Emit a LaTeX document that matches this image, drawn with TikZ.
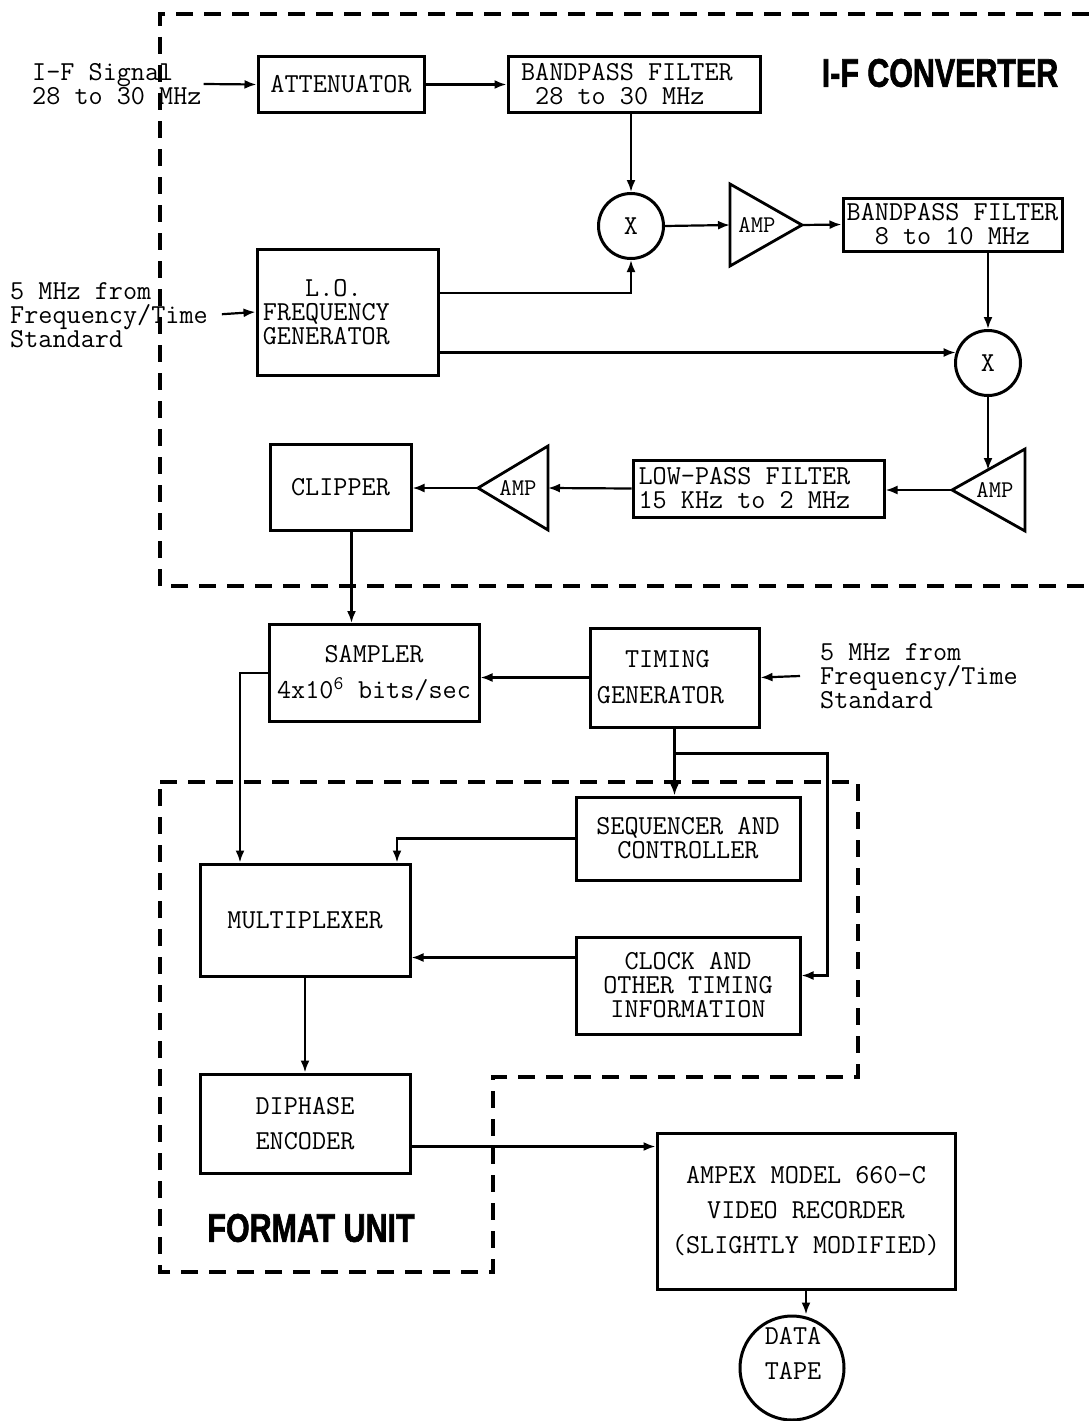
\documentclass[tikz,border=0pt]{standalone}
\usepackage{fontspec}
\usetikzlibrary{arrows.meta,calc}
\newfontfamily\titlefont[FakeStretch=0.76,FakeBold=1.5]{Liberation Sans}
\newcommand\typefont{\ttfamily\addfontfeatures{FakeBold=1,WordSpace={1,0,0}}}

\begin{document}
\begin{tikzpicture}[x=1pt,y=-1pt,
  font=\typefont\fontsize{27.4}{24}\selectfont,
  blk/.style={draw, line width=3pt, inner sep=0pt, align=center},
  mixer/.style={draw, circle, line width=3pt, inner sep=0pt, minimum size=65pt},
  amp/.style={line width=2.8pt, line join=miter},
  amptext/.style={font=\typefont\fontsize{24}{24}\selectfont, inner sep=0pt},
  wire/.style={line width=2.2pt},
  arr/.style={wire, -{Latex[length=12pt,width=9pt]}},
  unit/.style={line width=4.5pt, dash pattern=on 17pt off 11pt},
  title/.style={font=\titlefont\bfseries\fontsize{40}{40}\selectfont}]

\useasboundingbox (0,0) rectangle (1089,1421);

% I-F converter
\draw[unit] (1089,14) -- (160,14) -- (160,586) -- (1089,586);
\node[title] (ifconv) at (940,73) {I-F CONVERTER};

\node[align=left, anchor=west, inner sep=2pt] (ifsig) at (30,84) {I-F Signal\\28 to 30 MHz};
\node[blk, minimum width=166pt, minimum height=55pt] (atten) at (341,84.5) {ATTENUATOR};
\node[blk, minimum width=252pt, minimum height=55pt, align=left] (bpf1) at (634,84.5) {BANDPASS FILTER\hphantom{0}\\\hphantom{0}28 to 30 MHz};
\node[mixer] (mix1) at (631,226) {X};

% amp 1
\draw[amp] (730,184) -- (802,225) -- (730,266) -- cycle;
\coordinate (amp1-in) at (730,225);
\coordinate (amp1-out) at (802,225);
\node[amptext] (amp1) at (757,225) {AMP};

\node[blk, minimum width=219pt, minimum height=53pt] (bpf2) at (952.5,224.5) {BANDPASS FILTER\\8 to 10 MHz};
\node[mixer] (mix2) at (988,363) {X};

\node[blk, minimum width=181pt, minimum height=126pt, align=left] (lo) at (347.5,312) {\hphantom{FRE}L.O.\\FREQUENCY\hphantom{XXX}\\GENERATOR};
\coordinate (lo-a) at (438,293);
\node[align=left, anchor=west, inner sep=2pt] (loref) at (8,315) {5 MHz from\\Frequency/Time\\Standard};

% amp 3, pointing left
\draw[amp] (1025,449) -- (952,490) -- (1025,531) -- cycle;
\coordinate (amp3-in) at (988,470);
\coordinate (amp3-out) at (952,490);
\node[amptext] (amp3) at (995,490) {AMP};

\node[blk, minimum width=251pt, minimum height=57pt, align=left] (lpf) at (758.5,488.5) {LOW-PASS FILTER\hphantom{00}\\15 KHz to 2 MHz};

% amp 2
\draw[amp] (548,446) -- (478,488) -- (548,530) -- cycle;
\coordinate (amp2-in) at (548,488);
\coordinate (amp2-out) at (478,488);
\node[amptext] (amp2) at (518,488) {AMP};

\node[blk, minimum width=141pt, minimum height=86pt] (clip) at (340.5,487) {CLIPPER};

% sampler and timing
\node[blk, minimum width=210pt, minimum height=97pt] (samp) at (374,673) {SAMPLER\\[12pt]4x10\textsuperscript{6} bits/sec};
\node[blk, minimum width=169pt, minimum height=99pt, align=left] (tgen) at (674.5,677.5) {\hphantom{GE}TIMING\\[12pt]GENERATOR\hphantom{GE}};
\node[align=left, anchor=west, inner sep=2pt] (tgref) at (818,676) {5 MHz from\\Frequency/Time\\Standard};

% format unit
\draw[unit] (160,782) -- (858,782) -- (858,1077) -- (493,1077) -- (493,1272) -- (160,1272) -- cycle;
\node[title] (fmt) at (311,1228) {FORMAT UNIT};

\node[blk, minimum width=224pt, minimum height=83pt] (seq) at (688,838.5) {SEQUENCER AND\\CONTROLLER};
\node[blk, minimum width=210pt, minimum height=112pt] (mux) at (305,920) {MULTIPLEXER};
\node[blk, minimum width=224pt, minimum height=97pt] (clock) at (688,985.5) {CLOCK AND\\OTHER TIMING\\INFORMATION};
\node[blk, minimum width=210pt, minimum height=99pt] (dip) at (305,1123.5) {DIPHASE\\[11pt]ENCODER};
\node[blk, minimum width=298pt, minimum height=156pt] (ampex) at (806,1211) {AMPEX MODEL 660-C\\[11pt]VIDEO RECORDER\\[11pt](SLIGHTLY MODIFIED)};
\node[draw, circle, line width=3pt, minimum size=104pt, inner sep=0pt] (tape) at (792,1368) {};
\node[align=center] (tapetxt) at (793,1353) {DATA\\[11pt]TAPE};

% connectors
\draw[arr] (ifsig.east) -- (atten.west);
\draw[arr] (atten.east) -- (bpf1.west);
\draw[arr] (mix1.north |- bpf1.south) -- (mix1.north);
\draw[arr] (mix1.east) -- (amp1-in);
\draw[arr] (amp1-out) -- (bpf2.west);
\draw[arr] (lo-a) -| (mix1.south);
\draw[arr] (mix2.north |- bpf2.south) -- (mix2.north);
\draw[arr] (lo.east |- mix2.162) -- (mix2.162);
\draw[arr, shorten <=12pt] (loref.east) -- (lo.west);
\draw[arr] (mix2.south) -- (amp3-in);
\draw[arr] (amp3-out) -- (amp3-out -| lpf.east);
\draw[arr] (lpf.west) -- (amp2-in);
\draw[arr] (amp2-out) -- (amp2-out -| clip.east);
\draw[arr] ([xshift=11pt]clip.south) -- ([xshift=11pt]clip.south |- samp.north);
\draw[arr] (tgen.west) -- (tgen.west -| samp.east);
\draw[arr] ([xshift=-18pt]tgref.west) -- (tgen.east);
\draw[arr] (tgen.south) -- (tgen.south |- seq.north);
\coordinate (tap) at ($(tgen.south)+(0,25)$);
\draw[arr] (tap) -| ($(clock.east)+(26,-10)$) -- ($(clock.east)+(0,-10)$);
\draw[arr] (samp.west) -| ([xshift=-65pt]mux.north);
\draw[arr] (seq.west) -| ([xshift=92pt]mux.north);
\draw[arr] ([yshift=28pt]clock.west) -- ([yshift=28pt]clock.west -| mux.east);
\draw[arr] (mux.south) -- (dip.north);
\draw[arr] ([yshift=-23pt]dip.east) -- ([yshift=-23pt]dip.east -| ampex.west);
\draw[arr] (ampex.south) -- (ampex.south |- tape.north);

\end{tikzpicture}
\end{document}
